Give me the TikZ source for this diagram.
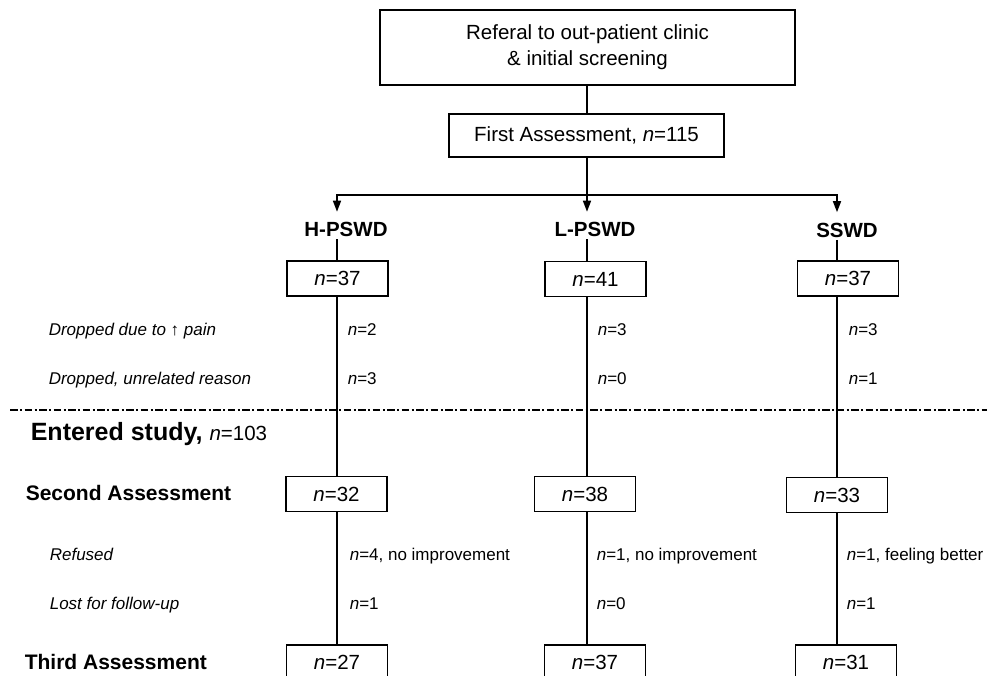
\documentclass[tikz,border=0pt]{standalone}
\usepackage{fontspec}
\setmainfont{Liberation Sans}
\usetikzlibrary{arrows.meta}
\newcommand{\fsz}[1]{\fontsize{#1}{26}\selectfont}
\begin{document}
\begin{tikzpicture}[x=1pt,y=-1pt,
  line width=1.6pt,
  boxnode/.style={draw, line width=1.5pt, inner sep=0pt, font=\fsz{20.5}, minimum height=35pt, minimum width=101pt},
  hdr/.style={font=\bfseries\fsz{20.5}, inner sep=0pt, text height=24pt, text depth=2pt, anchor=base},
  sidelbl/.style={font=\itshape\fsz{17}, inner sep=0pt, anchor=base west},
  cnt/.style={font=\fsz{17}, inner sep=0pt, anchor=base west},
  rowlbl/.style={font=\bfseries\fsz{21}, inner sep=0pt, anchor=base west},
  arr/.style={-{Triangle[length=11pt,width=8pt]}},
  dashdot/.style={line width=2.2pt, dash pattern=on 7.5pt off 2.5pt on 2pt off 2.5pt}
]
\useasboundingbox (0,0) rectangle (987,676);
\clip (0,0) rectangle (987,676);

% top boxes
\node[draw, line width=1.5pt, minimum width=415pt, minimum height=75pt, align=center, font=\fsz{20.5}, inner sep=0pt] (top) at (587.5,47.5) {Referal to out-patient clinic\\\& initial screening};
\node[draw, line width=1.5pt, minimum width=275pt, minimum height=43pt, font=\fsz{20.5}, inner sep=0pt] (first) at (586.5,135.5) {First Assessment, \textit{n}=115};

% column coordinates
\coordinate (hx) at (337,0);
\coordinate (lx) at (587,0);
\coordinate (sx) at (837,0);
\coordinate (br) at (587,195);

% headers
\node[hdr] (Hhdr) at (346,236.5) {H-PSWD};
\node[hdr] (Lhdr) at (595,236.5) {L-PSWD};
\node[hdr] (Shdr) at (847,237) {SSWD};

% boxes
\node[boxnode] (H1) at (337.5,278.5) {\textit{n}=37};
\node[boxnode] (L1) at (595.5,279) {\textit{n}=41};
\node[boxnode] (S1) at (848,278.5) {\textit{n}=37};
\node[boxnode] (H2) at (336.5,494) {\textit{n}=32};
\node[boxnode] (L2) at (585,494) {\textit{n}=38};
\node[boxnode] (S2) at (837,495) {\textit{n}=33};
\node[boxnode] (H3) at (337,662.5) {\textit{n}=27};
\node[boxnode] (L3) at (595,662.5) {\textit{n}=37};
\node[boxnode] (S3) at (846,662.5) {\textit{n}=31};

% connectors
\draw (top.south -| lx) -- (lx |- first.north);
\draw[arr] (first.south -| lx) -- (lx |- Lhdr.north);
\draw[arr] (br) -| (hx |- Hhdr.north);
\draw[arr] (br) -| (sx |- Shdr.north);
\foreach \c/\x in {H/hx, L/lx, S/sx}{
  \draw (\x |- \c hdr.south) -- (\x |- \c 1.north);
  \draw (\x |- \c 1.south) -- (\x |- \c 2.north);
  \draw (\x |- \c 2.south) -- (\x |- \c 3.north);
}

% dash-dot separator
\coordinate (dl) at (10,410);
\coordinate (dr) at (987,410);
\draw[dashdot] (dl) -- (dr);

% left labels
\node[sidelbl] (d1) at (48,335) {Dropped due to ↑ pain};
\node[sidelbl] (d2) at (48,384) {Dropped, unrelated reason};
\node[sidelbl] (r1) at (49,560) {Refused};
\node[sidelbl] (r2) at (49,609) {Lost for follow-up};

\node[font=\bfseries\fsz{25}, inner sep=0pt, anchor=base west] (ent) at (30,440) {Entered study, {\mdseries\fsz{20.5}\textit{n}=103}};
\node[rowlbl] (sec) at (25,500.5) {Second Assessment};
\node[rowlbl] (thi) at (24,669.5) {Third Assessment};

% counts
\node[cnt] (ha) at (347,335) {\textit{n}=2};
\node[cnt] (la) at (597,335) {\textit{n}=3};
\node[cnt] (sa) at (848,335) {\textit{n}=3};
\node[cnt] (hb) at (347,384) {\textit{n}=3};
\node[cnt] (lb) at (597,384) {\textit{n}=0};
\node[cnt] (sb) at (848,384) {\textit{n}=1};
\node[cnt] (hc) at (349,560) {\textit{n}=4, no improvement};
\node[cnt] (lc) at (596,560) {\textit{n}=1, no improvement};
\node[cnt] (sc) at (846,560) {\textit{n}=1, feeling better};
\node[cnt] (hd) at (349,609) {\textit{n}=1};
\node[cnt] (ld) at (596,609) {\textit{n}=0};
\node[cnt] (sd) at (846,609) {\textit{n}=1};
\end{tikzpicture}
\end{document}
